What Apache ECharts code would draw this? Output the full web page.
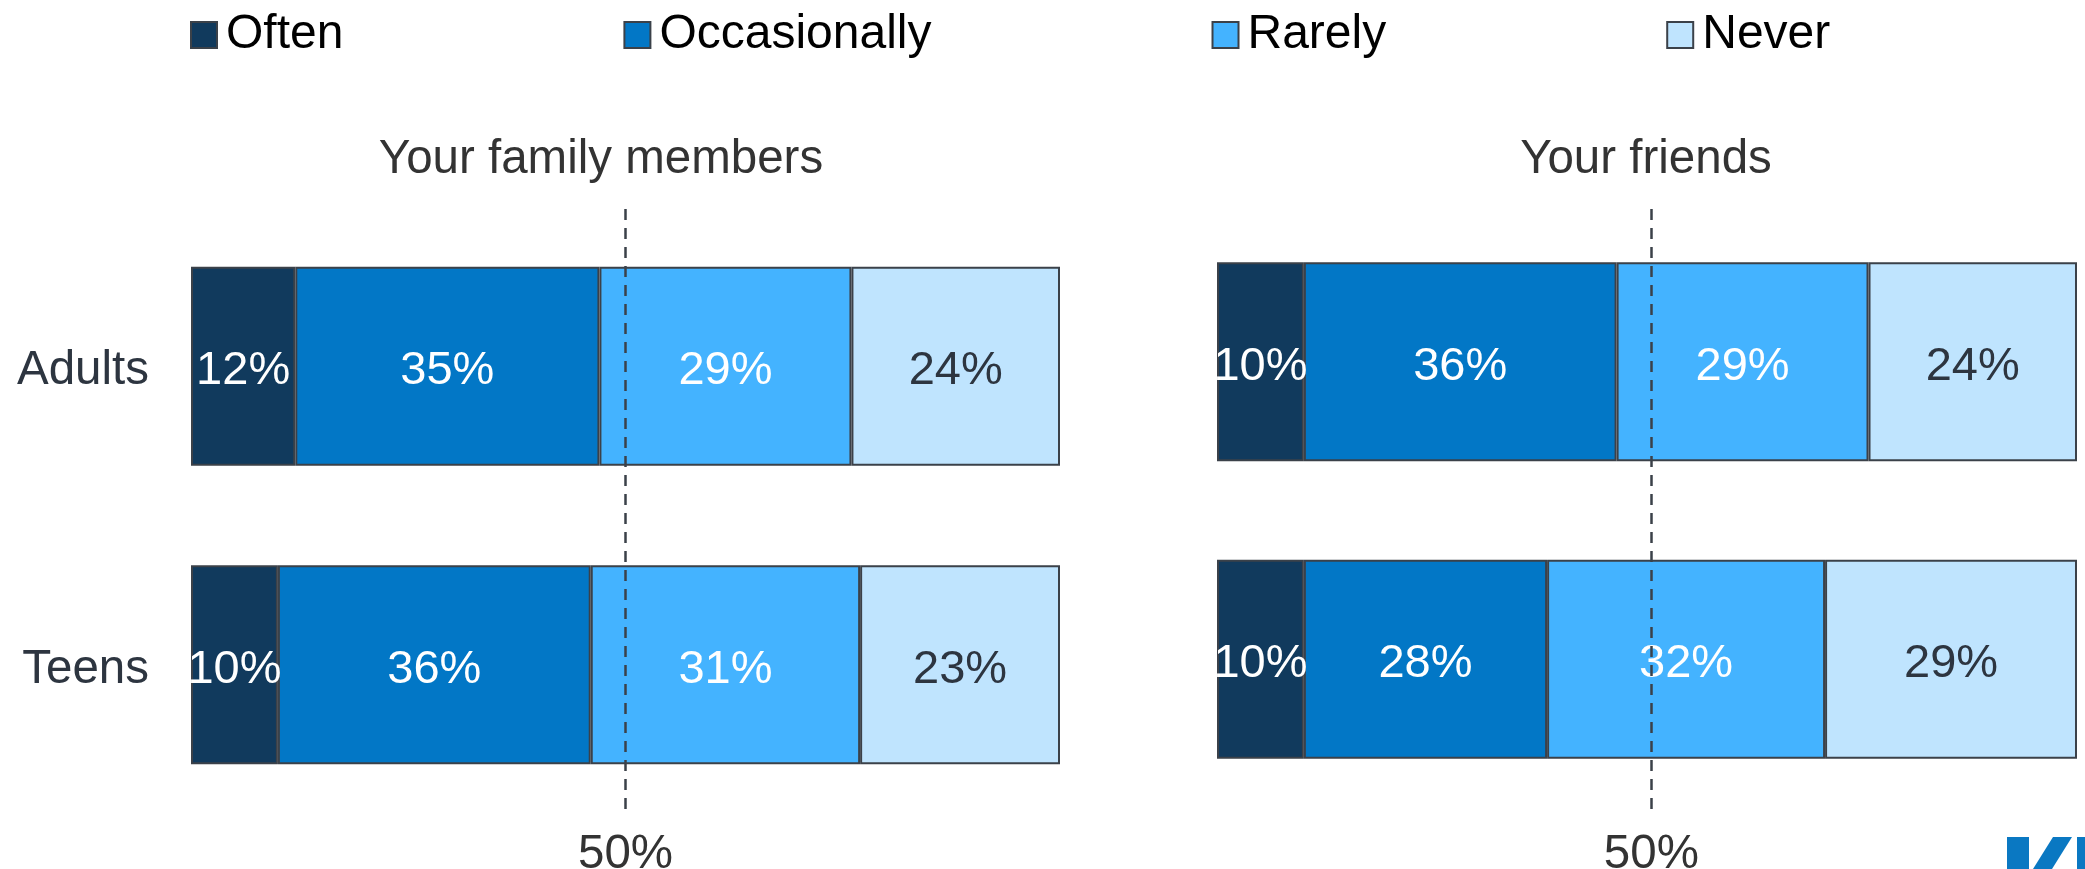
<!DOCTYPE html>
<html>
<head>
<meta charset="utf-8">
<script src="https://cdn.jsdelivr.net/npm/echarts@6/dist/echarts.min.js"></script>
<style>
html,body{margin:0;padding:0;background:#fff;}
#chart{width:2085px;height:869px;}
</style>
</head>
<body>
<div id="chart"></div>
<script>
const categories = ['Adults', 'Teens'];
const seriesNames = ['Often', 'Occasionally', 'Rarely', 'Never'];
const panelTitles = ['Your family members', 'Your friends'];
const familyOften = [12, 10];
const familyOccasionally = [35, 36];
const familyRarely = [29, 31];
const familyNever = [24, 23];
const friendsOften = [10, 10];
const friendsOccasionally = [36, 28];
const friendsRarely = [29, 32];
const friendsNever = [24, 29];
const refLineValue = 50;

const FONT = "'Liberation Sans', Arial, Helvetica, sans-serif";
const colors = ['#113a5d', '#0277c6', '#44b3ff', '#bfe4fe'];
const labelColors = ['#ffffff', '#ffffff', '#ffffff', '#2d3540'];
const borderColor = '#3b4149';

const familyData = [familyOften, familyOccasionally, familyRarely, familyNever];
const friendsData = [friendsOften, friendsOccasionally, friendsRarely, friendsNever];

function totalMax(arrs) {
  let m = 0;
  for (let i = 0; i < categories.length; i++) {
    let s = 0;
    arrs.forEach(a => s += a[i]);
    m = Math.max(m, s);
  }
  return m;
}

const refLineSpan = [209, 814];

const series = [];
[familyData, friendsData].forEach((panel, p) => {
  panel.forEach((vals, k) => {
    const s = {
      name: seriesNames[k],
      type: 'bar',
      stack: 'panel' + p,
      xAxisIndex: p,
      yAxisIndex: p,
      barWidth: 199,
      data: vals,
      itemStyle: { color: colors[k], borderColor: borderColor, borderWidth: 2 },
      label: {
        show: true,
        position: 'inside',
        formatter: '{c}%',
        fontFamily: FONT,
        fontSize: 47,
        offset: [0, 5],
        color: labelColors[k]
      },
      emphasis: { disabled: true }
    };
    if (k === panel.length - 1) {
      s.markLine = {
        silent: true,
        symbol: 'none',
        label: { show: false },
        lineStyle: { color: borderColor, type: [11, 8], width: 2.5 },
        data: [[{ xAxis: refLineValue, y: refLineSpan[0] }, { xAxis: refLineValue, y: refLineSpan[1] }]],
        z: 10
      };
    }
    series.push(s);
  });
});

const grids = [
  { left: 191, width: 869, top: 217, height: 597, outerBoundsMode: 'none', containLabel: false },
  { left: 1217, width: 860, top: 213, height: 595, outerBoundsMode: 'none', containLabel: false }
];

function makeX(idx, max, margin) {
  return {
    type: 'value', gridIndex: idx, min: 0, max: max, interval: 50,
    axisLine: { show: false }, axisTick: { show: false }, splitLine: { show: false },
    axisLabel: {
      margin: margin, fontFamily: FONT, fontSize: 47.5, color: '#333333',
      showMinLabel: true, showMaxLabel: true,
      formatter: v => (v === refLineValue ? refLineValue + '%' : '')
    }
  };
}

const option = {
  animation: false,
  backgroundColor: '#ffffff',
  legend: {
    data: seriesNames,
    left: 185, top: 6,
    itemWidth: 26, itemHeight: 26, itemGap: 280,
    icon: 'rect',
    itemStyle: { borderColor: borderColor, borderWidth: 2 },
    textStyle: { fontFamily: FONT, fontSize: 48, color: '#000000', lineHeight: 46, padding: [0, 0, 0, 4] },
    selectedMode: false
  },
  grid: grids,
  xAxis: [makeX(0, totalMax(familyData), 17), makeX(1, totalMax(friendsData), 23)],
  yAxis: [
    {
      type: 'category', gridIndex: 0, data: categories, inverse: true,
      axisLine: { show: false }, axisTick: { show: false },
      axisLabel: { margin: 42, fontFamily: FONT, fontSize: 47.5, color: '#2d3540', verticalAlign: 'top', lineHeight: 10 }
    },
    {
      type: 'category', gridIndex: 1, data: categories, inverse: true,
      axisLine: { show: false }, axisTick: { show: false }, axisLabel: { show: false }
    }
  ],
  series: series,
  graphic: [
    { type: 'text', x: 601, y: 160, silent: true,
      style: { text: panelTitles[0], fontFamily: FONT, fontSize: 47.5, fill: '#333333', align: 'center', verticalAlign: 'middle' } },
    { type: 'text', x: 1646, y: 160, silent: true,
      style: { text: panelTitles[1], fontFamily: FONT, fontSize: 47.5, fill: '#333333', align: 'center', verticalAlign: 'middle' } },
    { type: 'polygon', silent: true, shape: { points: [[2007, 837], [2029, 837], [2029, 869], [2007, 869]] }, style: { fill: '#0a78c2' } },
    { type: 'polygon', silent: true, shape: { points: [[2053, 837], [2072, 837], [2052, 869], [2033, 869]] }, style: { fill: '#0a78c2' } },
    { type: 'polygon', silent: true, shape: { points: [[2077, 837], [2085, 837], [2085, 869], [2077, 869]] }, style: { fill: '#0a78c2' } }
  ]
};

const chart = echarts.init(document.getElementById('chart'), null, { renderer: 'canvas' });
chart.setOption(option);
</script>
</body>
</html>
